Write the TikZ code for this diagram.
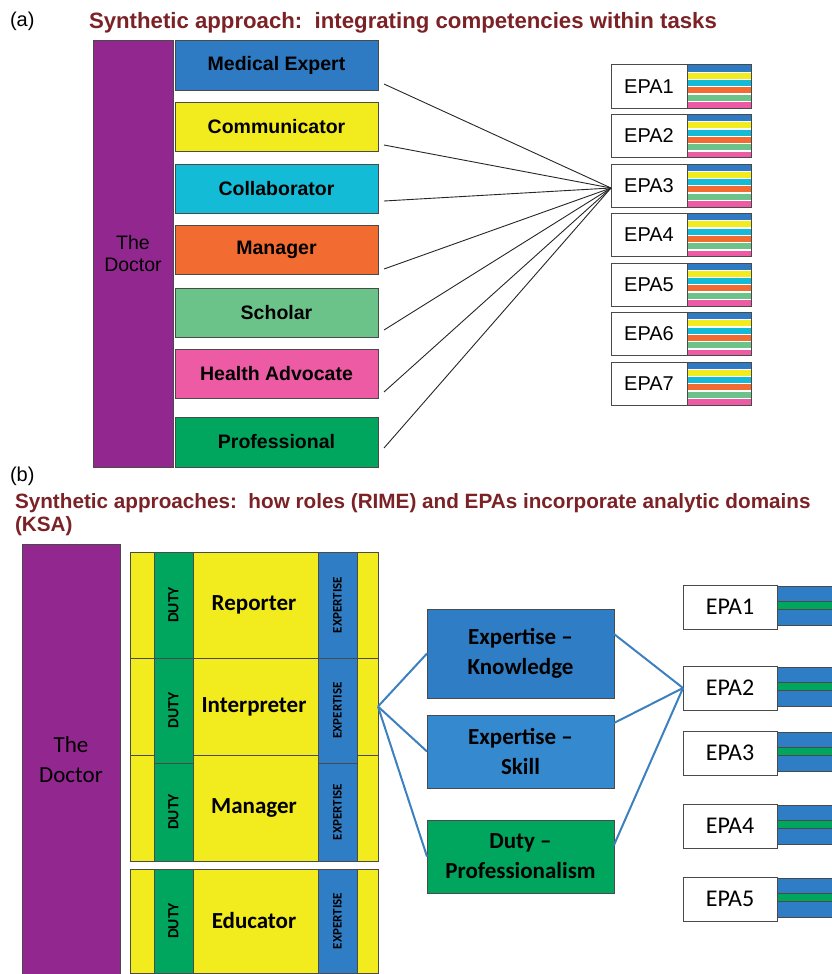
\documentclass[tikz,border=0pt]{standalone}
\usepackage{fontspec}
\setmainfont{Liberation Sans}
\newfontfamily\calib{Carlito}
\usetikzlibrary{calc}
\definecolor{cpurple}{HTML}{92278F}
\definecolor{cblue}{HTML}{2E7BC4}
\definecolor{cyellow}{HTML}{F2EB1D}
\definecolor{ccyan}{HTML}{14BBD6}
\definecolor{corange}{HTML}{F26B30}
\definecolor{clgreen}{HTML}{6CC38A}
\definecolor{cpink}{HTML}{EC5BA4}
\definecolor{cgreen}{HTML}{00A65D}
\definecolor{ctitle}{HTML}{7B2226}
\definecolor{cbblue}{HTML}{2F7DC4}
\definecolor{cbblue2}{HTML}{3489CF}
\definecolor{cline}{HTML}{3C80C0}
\definecolor{cedge}{HTML}{4A4A4A}
\begin{document}
\begin{tikzpicture}[x=1pt,y=-1pt,
  every node/.style={inner sep=0pt,outer sep=0pt},
  bx/.style={draw=cedge,line width=1pt,anchor=north west},
  roleA/.style={bx,minimum width=203pt,minimum height=49pt,font=\fontsize{19.5}{22}\selectfont\bfseries},
  epaA/.style={bx,fill=white,minimum width=76pt,minimum height=43pt,font=\fontsize{20}{22}\selectfont},
  stripA/.style={bx,fill=white,minimum width=64pt,minimum height=43pt},
  epaB/.style={bx,fill=white,minimum width=94pt,minimum height=44pt,font=\calib\fontsize{24}{26}\selectfont},
  rowB/.style={bx,fill=cyellow,minimum width=248pt,font=\calib\fontsize{23}{26}\selectfont\bfseries},
  dutybox/.style={draw=cedge,line width=1pt,fill=cgreen,rotate=90,minimum height=39pt,font=\calib\fontsize{15.5}{17}\selectfont\bfseries},
  expbox/.style={draw=cedge,line width=1pt,fill=cbblue,rotate=90,minimum height=39pt,font=\calib\fontsize{13}{14}\selectfont\bfseries},
  midbox/.style={bx,minimum width=187pt,align=center,font=\calib\fontsize{23}{30}\selectfont\bfseries},
  fanA/.style={draw=black!85,line width=0.9pt},
  fanB/.style={draw=cline,line width=2pt},
  ttl/.style={anchor=base west,text=ctitle,font=\fontsize{22.2}{24}\selectfont\bfseries},
  lab/.style={anchor=base west,font=\fontsize{20}{22}\selectfont}
]
\useasboundingbox (0,0) rectangle (832,974);
% ---------------- (a) ----------------
\node[lab] (la) at (10,27) {(a)};
\node[ttl] (ta) at (89,29) {Synthetic approach:\ \ integrating competencies within tasks};
\node[bx,fill=cpurple,minimum width=80pt,minimum height=426pt,align=center,
  font=\fontsize{19.5}{22}\selectfont] (docA) at (93,41) {The\\Doctor};
\node[roleA,fill=cblue] (me) at (175,41) {Medical Expert};
\node[roleA,fill=cyellow] (co) at (175,102.5) {Communicator};
\node[roleA,fill=ccyan] (cl) at (175,164) {Collaborator};
\node[roleA,fill=corange] (ma) at (175,225.5) {Manager};
\node[roleA,fill=clgreen] (sc) at (175,288) {Scholar};
\node[roleA,fill=cpink] (ha) at (175,349) {Health Advocate};
\node[roleA,fill=cgreen,minimum height=50pt] (pr) at (175,417) {Professional};
\foreach \i in {1,...,7} {
  \pgfmathsetmacro\tp{65+49.5*(\i-1)}
  \node[epaA] (ea\i) at (611,\tp) {EPA\i};
  \node[stripA] (sa\i) at (687,\tp) {};
  \foreach \c [count=\k from 0] in {cblue,cyellow,ccyan,corange,clgreen,cpink}
    \fill[\c] ($(sa\i.north west)+(0.5,0.5+7.3*\k)$) rectangle ++(63,6);
  \draw[cedge,line width=1pt] (sa\i.north west) rectangle (sa\i.south east);
}
\coordinate (hubA) at (611,188);
\coordinate (s1) at (384,84);
\coordinate (s2) at (384,145);
\coordinate (s3) at (384,201);
\coordinate (s4) at (384,269);
\coordinate (s5) at (384,330);
\coordinate (s6) at (384,392);
\coordinate (s7) at (384,448);
\foreach \s in {s1,s2,s3,s4,s5,s6,s7} \draw[fanA] (\s) -- (hubA);
% ---------------- (b) ----------------
\node[lab] (lb) at (10,481) {(b)};
\node[ttl,font=\fontsize{20.7}{23}\selectfont\bfseries] (tb1) at (15,508) {Synthetic approaches:\ \ how roles (RIME) and EPAs incorporate analytic domains};
\node[ttl,font=\fontsize{20.7}{23}\selectfont\bfseries] (tb2) at (15,531) {(KSA)};
\node[bx,fill=cpurple,minimum width=98pt,minimum height=431pt,align=center,
  font=\calib\fontsize{23}{30}\selectfont] (docB) at (22,544) {The\\Doctor};
\node[rowB,minimum height=106pt] (rep) at (130,552) {Reporter};
\node[rowB,minimum height=97pt] (int) at (130,658) {Interpreter};
\node[rowB,minimum height=106pt] (man) at (130,755) {Manager};
\node[rowB,minimum height=104pt] (edu) at (130,869) {Educator};
\node[dutybox,minimum width=106pt] (d1) at (173.5,605) {DUTY};
\node[dutybox,minimum width=105pt] (d2) at (173.5,710.5) {DUTY};
\node[dutybox,minimum width=98pt] (d3) at (173.5,812) {DUTY};
\node[dutybox,minimum width=104pt] (d4) at (173.5,921) {DUTY};
\node[expbox,minimum width=106pt] (x1) at (337.5,605) {EXPERTISE};
\node[expbox,minimum width=105pt] (x2) at (337.5,710.5) {EXPERTISE};
\node[expbox,minimum width=98pt] (x3) at (337.5,812) {EXPERTISE};
\node[expbox,minimum width=104pt] (x4) at (337.5,921) {EXPERTISE};
\node[midbox,fill=cbblue,minimum height=89pt] (kn) at (427,609) {Expertise –\\Knowledge};
\node[midbox,fill=cbblue2,minimum height=73pt] (sk) at (427,715) {Expertise –\\Skill};
\node[midbox,fill=cgreen,minimum height=73pt] (du) at (427,820) {Duty –\\Professionalism};
\foreach \t [count=\i] in {585,666,731,804,877} {
  \node[epaB] (eb\i) at (683,\t) {EPA\i};
  \fill[cbblue] (777,\t+1) rectangle (833,\t+40);
  \fill[cgreen] (777,\t+16) rectangle (833,\t+24);
  \draw[cedge,line width=1pt] (833,\t+1) -- (777,\t+1) -- (777,\t+40) -- (833,\t+40);
  \draw[cedge,line width=1pt] (777,\t+16) -- (833,\t+16) (777,\t+24) -- (833,\t+24);
}
\draw[fanB] (int.east) -- (kn.west);
\draw[fanB] (int.east) -- (sk.west);
\draw[fanB] (int.east) -- (du.west);
\draw[fanB] ($(kn.north east)+(0,25)$) -- (eb2.west);
\draw[fanB] ($(sk.north east)+(0,8)$) -- (eb2.west);
\draw[fanB] ($(du.north east)+(0,25)$) -- (eb2.west);
\end{tikzpicture}
\end{document}
